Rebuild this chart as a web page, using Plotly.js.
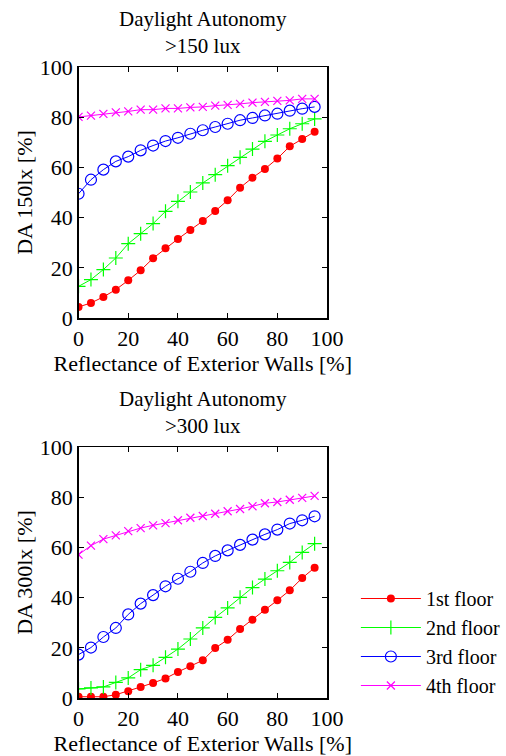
<!DOCTYPE html>
<html>
<head>
<meta charset="utf-8">
<script src="https://cdn.plot.ly/plotly-3.0.1.min.js"></script>
<style>html,body{margin:0;padding:0;background:#fff;}#chart{width:506px;height:756px;}</style>
</head>
<body>
<div id="chart"></div>
<script>
const reflectance = [0, 5, 10, 15, 20, 25, 30, 35, 40, 45, 50, 55, 60, 65, 70, 75, 80, 85, 90, 95];
const floorNames = ["1st floor", "2nd floor", "3rd floor", "4th floor"];

// DA 150 lx
const da150_floor1 = [4.4, 6.0, 8.4, 11.3, 15.0, 19.0, 23.8, 27.8, 31.5, 35.1, 38.6, 42.6, 46.9, 51.9, 55.9, 59.4, 63.5, 68.4, 71.3, 74.2];
const da150_floor2 = [12.6, 15.3, 19.3, 23.9, 29.6, 33.6, 37.6, 42.5, 46.5, 50.2, 53.8, 57.1, 60.7, 64.0, 67.3, 70.4, 72.9, 75.4, 77.4, 79.3];
const da150_floor3 = [49.5, 55.1, 59.1, 62.4, 64.3, 66.8, 68.7, 70.5, 71.8, 73.4, 74.8, 76.1, 77.4, 78.8, 79.7, 80.7, 81.4, 82.6, 83.4, 84.1];
const da150_floor4 = [80.1, 80.6, 81.3, 81.9, 82.3, 83.0, 83.0, 83.5, 83.5, 83.9, 84.1, 84.6, 84.9, 85.3, 85.8, 86.1, 86.5, 86.7, 87.3, 87.3];

// DA 300 lx
const da300_floor1 = [0.5, 0.5, 0.5, 1.3, 2.7, 4.4, 6.0, 7.8, 10.4, 12.6, 15.0, 19.9, 23.2, 27.5, 31.2, 35.2, 38.9, 42.9, 47.8, 51.9];
const da300_floor2 = [3.6, 4.0, 4.4, 6.2, 8.0, 11.3, 13.0, 16.2, 19.5, 23.5, 27.9, 32.1, 35.9, 40.1, 44.0, 47.4, 50.7, 54.0, 58.0, 61.5];
const da300_floor3 = [17.3, 20.1, 24.3, 27.9, 33.3, 37.6, 41.0, 44.5, 47.5, 50.3, 53.8, 56.6, 58.8, 61.0, 63.1, 65.2, 67.1, 69.5, 70.8, 72.4];
const da300_floor4 = [57.1, 60.7, 63.3, 64.8, 66.5, 67.7, 68.8, 69.7, 70.8, 71.8, 72.5, 73.4, 74.4, 75.3, 76.4, 77.6, 78.1, 79.0, 79.7, 80.5];

const tickVals = [0, 20, 40, 60, 80, 100];
const tickText = ["0", "20", "40", "60", "80", "100"];

const FONT = "Liberation Serif";
const FS = 22;
const styles = [
  {color: "#ff0000", marker: {symbol: "circle", size: 8, color: "#ff0000"}},
  {color: "#00ff00", marker: {symbol: "cross-thin-open", size: 10, color: "#00ff00", line: {width: 1.2, color: "#00ff00"}}},
  {color: "#0000ff", marker: {symbol: "circle-open", size: 11, color: "#0000ff", line: {width: 1.2, color: "#0000ff"}}},
  {color: "#ff00ff", marker: {symbol: "x-thin-open", size: 8, color: "#ff00ff", line: {width: 1.2, color: "#ff00ff"}}}
];

const topSeries = [da150_floor1, da150_floor2, da150_floor3, da150_floor4];
const botSeries = [da300_floor1, da300_floor2, da300_floor3, da300_floor4];

const traces = [];
topSeries.forEach((ys, i) => {
  traces.push({x: reflectance, y: ys, xaxis: "x", yaxis: "y", type: "scatter", mode: "lines+markers",
    name: floorNames[i], showlegend: false, line: {color: styles[i].color, width: 1}, marker: styles[i].marker});
});
botSeries.forEach((ys, i) => {
  traces.push({x: reflectance, y: ys, xaxis: "x2", yaxis: "y2", type: "scatter", mode: "lines+markers",
    name: floorNames[i], showlegend: true, line: {color: styles[i].color, width: 1}, marker: styles[i].marker});
});

function xAxis(anchor) {
  return {
    domain: [79/506, 329/506], anchor: anchor, range: [0, 100],
    tickvals: tickVals, ticktext: tickText, ticks: "inside", ticklen: 5, tickwidth: 1, tickcolor: "#000",
    showline: true, linecolor: "#000", linewidth: 1.5, mirror: "ticks", showgrid: false, zeroline: false,
    tickfont: {family: FONT, size: FS, color: "#000"},
    title: {text: "Reflectance of Exterior Walls [%]", font: {family: FONT, size: FS, color: "#000"}, standoff: 3}
  };
}
function yAxis(domain, anchor, label) {
  return {
    domain: domain, anchor: anchor, range: [0, 100],
    tickvals: tickVals, ticktext: tickText, ticks: "inside", ticklen: 5, tickwidth: 1, tickcolor: "#000",
    showline: true, linecolor: "#000", linewidth: 1.5, mirror: "ticks", showgrid: false, zeroline: false,
    tickfont: {family: FONT, size: FS, color: "#000"},
    title: {text: label, font: {family: FONT, size: FS, color: "#000"}, standoff: 1}
  };
}

const layout = {
  width: 506, height: 756,
  margin: {l: 0, r: 0, t: 0, b: 0},
  paper_bgcolor: "#fff", plot_bgcolor: "#fff",
  showlegend: true,
  xaxis: xAxis("y"),
  yaxis: yAxis([1 - 318/756, 1 - 67/756], "x", "DA 150lx [%]"),
  xaxis2: xAxis("y2"),
  yaxis2: yAxis([1 - 698/756, 1 - 447/756], "x2", "DA 300lx [%]"),
  legend: {x: 358/506, y: 1 - 579/756, xanchor: "left", yanchor: "top", bgcolor: "rgba(0,0,0,0)",
    font: {family: FONT, size: 20, color: "#000"}, itemwidth: 60, tracegroupgap: 0},
  annotations: [
    {text: "Daylight Autonomy<br>>150 lux", xref: "paper", yref: "paper", x: 204/506, y: 1 - 32/756,
     xanchor: "center", yanchor: "middle", showarrow: false, font: {family: FONT, size: 21, color: "#000"}},
    {text: "Daylight Autonomy<br>>300 lux", xref: "paper", yref: "paper", x: 204/506, y: 1 - 412/756,
     xanchor: "center", yanchor: "middle", showarrow: false, font: {family: FONT, size: 21, color: "#000"}}
  ]
};

Plotly.newPlot("chart", traces, layout, {displayModeBar: false, staticPlot: true});
</script>
</body>
</html>
